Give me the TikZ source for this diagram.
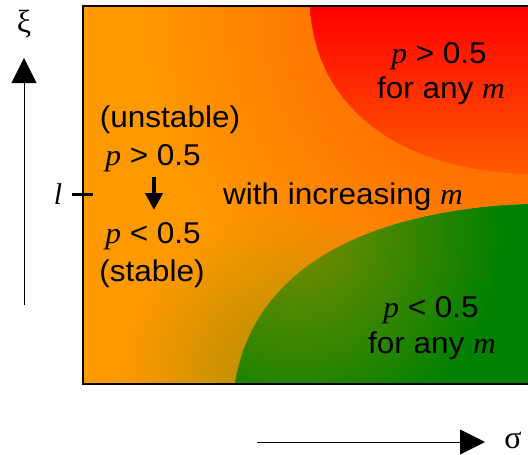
\documentclass[tikz,border=0pt]{standalone}
\usepackage{fontspec}
\setmainfont{Liberation Sans}
\newfontfamily\tmsfont{Liberation Serif}
\usetikzlibrary{arrows.meta,fadings}
\newcommand\mvar[1]{{\tmsfont\itshape #1}}
\definecolor{orng}{HTML}{FF9900}
\definecolor{orred}{HTML}{FF4E00}
\definecolor{redtop}{HTML}{FF0000}
\definecolor{redbot}{HTML}{FF5C00}
\definecolor{grn}{HTML}{008000}
\definecolor{olv}{HTML}{A88E00}
\definecolor{grolv}{HTML}{7A8C00}
\tikzfading[name=radfade, inner color=transparent!0, outer color=transparent!100]
\tikzset{
  txt/.style={font=\fontsize{30}{36}\selectfont, inner sep=0pt, anchor=base, xscale=1.05},
  axisline/.style={line width=1pt, -{Triangle[length=25pt,width=25pt]}},
  downarrow/.style={line width=4.3pt, -{Triangle[length=17pt,width=17pt]}},
}
\begin{document}
\begin{tikzpicture}[x=1pt,y=-1pt]
\useasboundingbox (0,0) rectangle (528,455);
\begin{scope}
  \clip (83,6) rectangle (528,384);
  \fill[orng] (83,6) rectangle (540,384);
  \shade[inner color=orred, outer color=orng] (528,0) circle (390);
  \fill[olv, path fading=radfade] (295,384) circle (175);
  % red region
  \begin{scope}
    \clip (310,6) .. controls (314,100) and (390,170) .. (528,174) -- (540,174) -- (540,0) -- (310,0) -- cycle;
    \shade[top color=redtop, bottom color=redbot] (300,6) rectangle (540,176);
  \end{scope}
  % green region
  \begin{scope}
    \clip (235,384) .. controls (255,260) and (380,210) .. (528,204) -- (540,204) -- (540,390) -- (235,390) -- cycle;
    \fill[grn] (230,195) rectangle (540,390);
    \shade[inner color=grolv, outer color=grn] (295,235) circle (210);
  \end{scope}
\end{scope}
\draw[line width=2.6pt] (540,6) -- (83,6) -- (83,384) -- (540,384);

% axes
\coordinate (xibot) at (24,305);
\coordinate (xitop) at (24,58);
\draw[axisline] (xibot) -- (xitop);
\node[font=\tmsfont\fontsize{32}{36}\selectfont, inner sep=0pt] (xi) at (24,24) {ξ};
\coordinate (sgl) at (257,442);
\coordinate (sgr) at (485,442);
\draw[axisline] (sgl) -- (sgr);
\node[font=\tmsfont\fontsize{32}{36}\selectfont, inner sep=0pt] (sigma) at (513,440) {σ};

% tick l
\coordinate (tl) at (72,194);
\coordinate (tr) at (93,194);
\draw[line width=3pt] (tl) -- (tr);
\node[font=\tmsfont\itshape\fontsize{30}{36}\selectfont, inner sep=0pt, anchor=base] (ell) at (58,204) {l};

% texts
\node[txt] (redp) at (439,63) {\mvar{p} > 0.5};
\node[txt] (redm) at (441,98) {for any \mvar{m}};
\node[txt] (uns) at (170,127) {(unstable)};
\node[txt] (pgt) at (153,165) {\mvar{p} > 0.5};
\node[txt] (plt) at (153,243) {\mvar{p} < 0.5};
\node[txt] (stb) at (152,281) {(stable)};
\node[txt] (inc) at (343,204) {with increasing \mvar{m}};
\node[txt] (grp) at (431,317) {\mvar{p} < 0.5};
\node[txt] (grm) at (432,353) {for any \mvar{m}};

\coordinate (dtop) at (154,177);
\coordinate (dbot) at (154,210);
\draw[downarrow] (dtop) -- (dbot);
\end{tikzpicture}
\end{document}
